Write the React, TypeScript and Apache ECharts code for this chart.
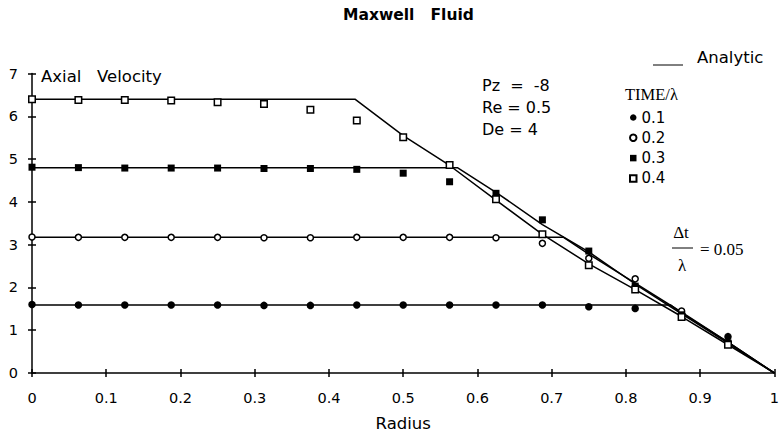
import { useEffect, useRef } from "react";
import * as echarts from "echarts";

// Radial stations of the numerical solution (r = k/16)
const RADIUS = [
  0, 0.0625, 0.125, 0.1875, 0.25, 0.3125, 0.375, 0.4375,
  0.5, 0.5625, 0.625, 0.6875, 0.75, 0.8125, 0.875, 0.9375,
];

const TIME_LABELS = ["0.1", "0.2", "0.3", "0.4"];

// Numerical axial velocity at each station, per TIME/λ
const VEL_T01 = [1.6, 1.59, 1.59, 1.59, 1.59, 1.58, 1.58, 1.59, 1.59, 1.59, 1.59, 1.59, 1.55, 1.51, 1.4, 0.85];
const VEL_T02 = [3.18, 3.17, 3.17, 3.17, 3.17, 3.16, 3.16, 3.17, 3.17, 3.17, 3.16, 3.03, 2.68, 2.2, 1.45, 0.72];
const VEL_T03 = [4.81, 4.8, 4.79, 4.79, 4.79, 4.78, 4.78, 4.76, 4.67, 4.47, 4.2, 3.58, 2.85, 2.03, 1.36, 0.7];
const VEL_T04 = [6.4, 6.38, 6.38, 6.37, 6.33, 6.29, 6.15, 5.9, 5.51, 4.86, 4.06, 3.24, 2.52, 1.95, 1.31, 0.66];

// Analytic profiles: plug-flow core followed by the shear wave front
const ANALYTIC_T01 = [[0, 1.59], [0.86, 1.59], [0.875, 1.4], [0.9375, 0.72], [1, 0]];
const ANALYTIC_T02 = [[0, 3.17], [0.716, 3.17], [0.75, 2.78], [0.8125, 2.1], [0.875, 1.42], [0.9375, 0.72], [1, 0]];
const ANALYTIC_T03 = [[0, 4.8], [0.573, 4.8], [0.627, 4.2], [0.6875, 3.47], [0.75, 2.83], [0.8125, 2.08], [0.875, 1.38], [0.9375, 0.7], [1, 0]];
const ANALYTIC_T04 = [[0, 6.4], [0.435, 6.4], [0.5, 5.55], [0.5625, 4.85], [0.625, 4.04], [0.6875, 3.24], [0.75, 2.55], [0.8125, 1.95], [0.875, 1.32], [0.9375, 0.66], [1, 0]];

const X_MIN = 0;
const X_MAX = 1;
const X_STEP = 0.1;
const Y_MIN = 0;
const Y_MAX = 7;
const Y_STEP = 1;

const SANS = "'DejaVu Sans', sans-serif";
const SERIF = "'Liberation Serif', 'Times New Roman', serif";
const INK = "#000";

const pairs = (vals: number[]) => RADIUS.map((r, i) => [r, vals[i]]);

function textEl(text: string, x: number, y: number, font: string, align = "left") {
  return {
    type: "text",
    x,
    y,
    silent: true,
    style: {
      text,
      font,
      fill: INK,
      align,
      verticalAlign: "middle",
      textAlign: align,
      textVerticalAlign: "middle",
    },
  };
}

export default function App() {
  const ref = useRef<HTMLDivElement>(null);

  useEffect(() => {
    if (!ref.current) return;
    const chart = echarts.init(ref.current, undefined, { renderer: "svg" });

    const axisLine = { lineStyle: { color: INK, width: 1.5 } };
    const tickStyle = { color: INK, width: 1.5 };

    const lineSeries = (data: number[][]) => ({
      type: "line",
      data,
      symbol: "none",
      silent: true,
      z: 2,
      lineStyle: { color: INK, width: 1.5 },
    });

    const scatter = (
      name: string,
      vals: number[],
      symbol: string,
      size: number,
      filled: boolean
    ) => ({
      type: "scatter",
      name,
      data: pairs(vals),
      symbol,
      symbolSize: size,
      z: 3,
      itemStyle: filled
        ? { color: INK, borderColor: INK, borderWidth: 0, opacity: 1 }
        : { color: "#fff", borderColor: INK, borderWidth: 1.5, opacity: 1 },
    });

    chart.setOption({
      animation: false,
      backgroundColor: "#fff",
      title: {
        text: "Maxwell   Fluid",
        left: 343,
        top: 7,
        padding: 0,
        textStyle: { fontFamily: SANS, fontSize: 15.5, fontWeight: "bold", color: INK },
      },
      legend: {
        orient: "vertical",
        left: 629,
        top: 110,
        padding: 0,
        itemWidth: 6.5,
        itemHeight: 6.5,
        itemGap: 5.3,
        selectedMode: false,
        data: TIME_LABELS,
        textStyle: { fontFamily: SANS, fontSize: 15, color: INK },
      },
      grid: { left: 32, right: 4, top: 73.5, bottom: 63 },
      xAxis: [
        {
          type: "value",
          min: X_MIN,
          max: X_MAX,
          interval: X_STEP,
          axisLine: { onZero: false, ...axisLine },
          axisTick: { length: 4, lineStyle: tickStyle },
          splitLine: { show: false },
          axisLabel: { margin: 17, fontSize: 14.5, fontFamily: SANS, color: INK },
          name: "Radius",
          nameLocation: "middle",
          nameGap: 42,
          nameTextStyle: { fontFamily: SANS, fontSize: 16.5, color: INK },
        },
        {
          type: "value",
          position: "bottom",
          min: X_MIN,
          max: X_MAX,
          interval: X_STEP,
          axisLine: { show: false, onZero: false },
          axisTick: { inside: true, length: 4, lineStyle: tickStyle },
          splitLine: { show: false },
          axisLabel: { show: false },
        },
      ],
      yAxis: [
        {
          type: "value",
          min: Y_MIN,
          max: Y_MAX,
          interval: Y_STEP,
          axisLine: { show: true, onZero: false, ...axisLine },
          axisTick: { show: true, length: 4, lineStyle: tickStyle },
          splitLine: { show: false },
          axisLabel: { margin: 14, fontSize: 14.5, fontFamily: SANS, color: INK },
        },
        {
          type: "value",
          position: "left",
          min: Y_MIN,
          max: Y_MAX,
          interval: Y_STEP,
          axisLine: { show: false, onZero: false },
          axisTick: { show: true, inside: true, length: 4, lineStyle: tickStyle },
          splitLine: { show: false },
          axisLabel: { show: false },
        },
      ],
      series: [
        lineSeries(ANALYTIC_T01),
        lineSeries(ANALYTIC_T02),
        lineSeries(ANALYTIC_T03),
        lineSeries(ANALYTIC_T04),
        scatter(TIME_LABELS[0], VEL_T01, "circle", 7.5, true),
        scatter(TIME_LABELS[1], VEL_T02, "circle", 6, false),
        scatter(TIME_LABELS[2], VEL_T03, "rect", 7, true),
        scatter(TIME_LABELS[3], VEL_T04, "rect", 6.5, false),
      ],
      graphic: [
        textEl("Axial   Velocity", 41, 76, `16.5px ${SANS}`),
        {
          type: "line",
          silent: true,
          shape: { x1: 653, y1: 65, x2: 683, y2: 65 },
          style: { stroke: INK, lineWidth: 1 },
        },
        textEl("Analytic", 697, 57.5, `16.5px ${SANS}`),
        textEl("Pz  =  -8", 482, 85.5, `16px ${SANS}`),
        textEl("Re = 0.5", 482, 107.5, `16px ${SANS}`),
        textEl("De = 4", 482, 129.5, `16px ${SANS}`),
        textEl("TIME/λ", 625, 94, `16.5px ${SERIF}`),
        textEl("Δt", 681, 232, `17px ${SERIF}`, "center"),
        {
          type: "line",
          silent: true,
          shape: { x1: 672, y1: 248, x2: 693, y2: 248 },
          style: { stroke: INK, lineWidth: 1 },
        },
        textEl("λ", 682, 265, `17px ${SERIF}`, "center"),
        textEl("= 0.05", 700, 249, `17px ${SERIF}`),
      ],
    });

    return () => chart.dispose();
  }, []);

  return (
    <div
      ref={ref}
      style={{ position: "fixed", left: 0, top: 0, width: 782, height: 437, background: "#fff" }}
    />
  );
}
